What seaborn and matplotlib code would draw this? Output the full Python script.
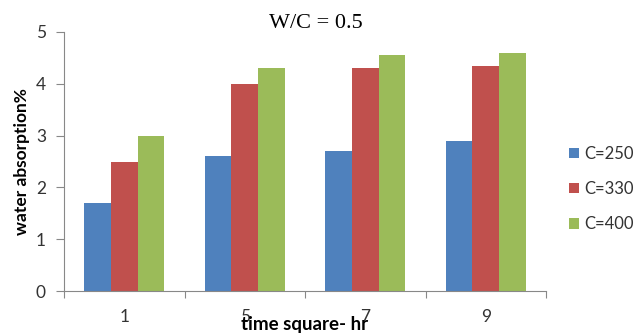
import matplotlib
matplotlib.use("Agg")
import matplotlib.pyplot as plt
import seaborn as sns
import pandas as pd
from matplotlib.patches import Patch

categories = ["1", "5", "7", "9"]
series_names = ["C=250", "C=330", "C=400"]
c250 = [1.7, 2.6, 2.7, 2.9]
c330 = [2.5, 4.0, 4.3, 4.35]
c400 = [3.0, 4.3, 4.55, 4.6]
colors = ["#4F81BD", "#C0504D", "#9BBB59"]

rows = []
for name, vals in zip(series_names, [c250, c330, c400]):
    for cat, v in zip(categories, vals):
        rows.append({"time": cat, "value": v, "series": name})
df = pd.DataFrame(rows)

sns.set_style("white")
plt.rcParams['font.family'] = ['Lato', 'DejaVu Sans']

fig = plt.figure(figsize=(6.34, 3.36), dpi=100)
ax = fig.add_axes([64/634, 1-291/336, (546-64)/634, (291-32)/336])

sns.barplot(data=df, x="time", y="value", hue="series", palette=colors,
            width=0.664, saturation=1, ax=ax, legend=False, linewidth=0)

ax.set_xlim(-0.5, 3.5)
ax.set_ylim(0, 5)
ax.set_yticks([0, 1, 2, 3, 4, 5])
ax.set_yticklabels(["0", "1", "2", "3", "4", "5"])
ax.set_xticks(range(4))
ax.set_xticklabels(categories)
ax.set_xticks([-0.5, 0.5, 1.5, 2.5, 3.5], minor=True)
ax.tick_params(axis='x', which='major', length=0, pad=13, labelsize=12.5, colors='#333333')
ax.tick_params(axis='x', which='minor', length=5, width=0.8, color='#888888', direction='out', bottom=True)
ax.tick_params(axis='y', which='major', length=6, width=0.8, color='#888888', labelsize=12.5,
               pad=7, left=True, labelcolor='#333333')

for s in ["top", "right"]:
    ax.spines[s].set_visible(False)
for s in ["left", "bottom"]:
    ax.spines[s].set_color("#888888")
    ax.spines[s].set_linewidth(0.8)

ax.set_xlabel("time square- hr", fontsize=13.5, fontweight='bold', color='black', va='center')
ax.xaxis.set_label_coords(0.5, -0.131)
ax.set_ylabel("water absorption%", fontsize=12.5, fontweight='bold', color='black', va='center')
ax.yaxis.set_label_coords(-0.087, 0.5)

fig.text(316/634, 1-23/336, "W/C = 0.5", family="Liberation Serif", fontsize=16,
         ha='center', va='center', color='black')

handles = [Patch(facecolor=c, edgecolor='none') for c in colors]
leg = fig.legend(handles, series_names, loc='center left', bbox_to_anchor=(569/634, 1-189/336),
                 frameon=False, fontsize=12, handlelength=0.6, handleheight=0.6,
                 handletextpad=0.3, labelspacing=1.15, borderpad=0, borderaxespad=0)
for t in leg.get_texts():
    t.set_color('#333333')

fig.savefig("out.png", dpi=100)
